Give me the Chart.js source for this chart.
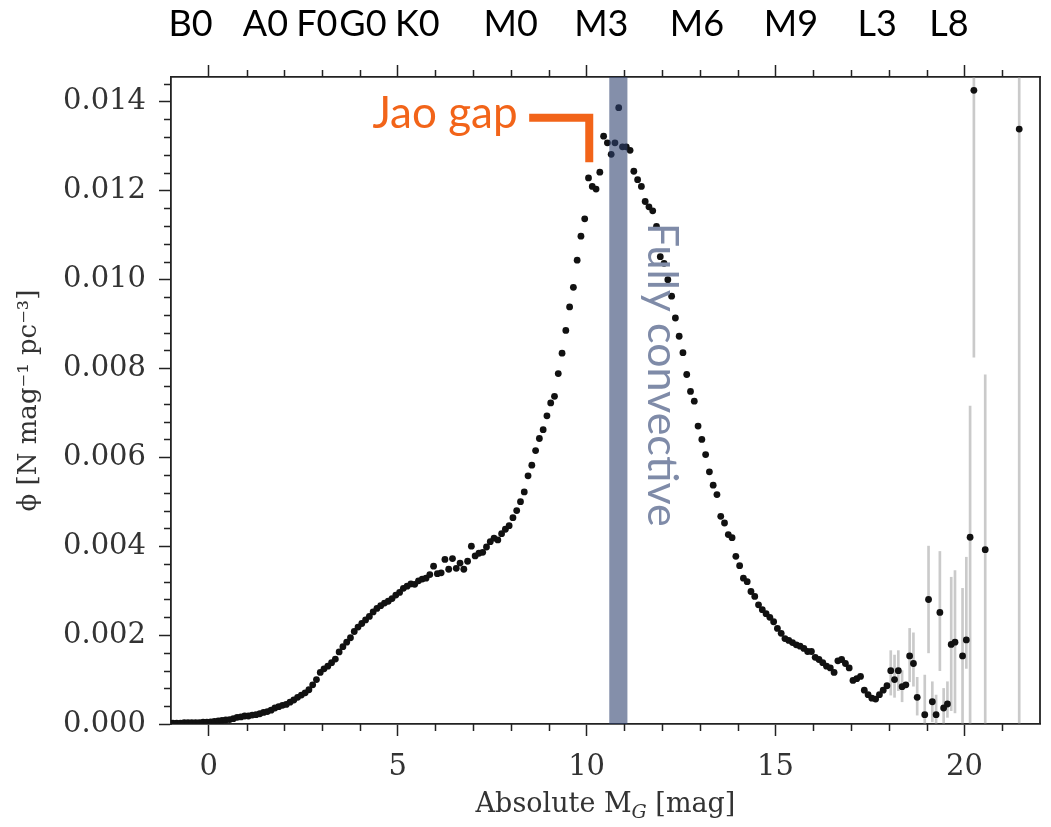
<!DOCTYPE html>
<html>
<head>
<meta charset="utf-8">
<script src="https://cdn.jsdelivr.net/npm/chart.js@4.4.1/dist/chart.umd.min.js"></script>
<style>
  html, body { margin: 0; padding: 0; background: #fff; }
  #wrap { width: 1051px; height: 827px; }
</style>
</head>
<body>
<div id="wrap"><canvas id="lf"></canvas></div>
<script>
// absolute G magnitude bin centres
const absMag = [
  -0.95, -0.85, -0.75, -0.65, -0.55, -0.45, -0.35, -0.25, -0.15, -0.05,
  0.05, 0.15, 0.25, 0.35, 0.45, 0.55, 0.65, 0.75, 0.85, 0.95,
  1.05, 1.15, 1.25, 1.35, 1.45, 1.55, 1.65, 1.75, 1.85, 1.95,
  2.05, 2.15, 2.25, 2.35, 2.45, 2.55, 2.65, 2.75, 2.85, 2.95,
  3.05, 3.15, 3.25, 3.35, 3.45, 3.55, 3.65, 3.75, 3.85, 3.95,
  4.05, 4.15, 4.25, 4.35, 4.45, 4.55, 4.65, 4.75, 4.85, 4.95,
  5.05, 5.15, 5.25, 5.35, 5.45, 5.55, 5.65, 5.75, 5.85, 5.95,
  6.05, 6.15, 6.25, 6.35, 6.45, 6.55, 6.65, 6.75, 6.85, 6.95,
  7.05, 7.15, 7.25, 7.35, 7.45, 7.55, 7.65, 7.75, 7.85, 7.95,
  8.05, 8.15, 8.25, 8.35, 8.45, 8.55, 8.65, 8.75, 8.85, 8.95,
  9.05, 9.15, 9.25, 9.35, 9.45, 9.55, 9.65, 9.75, 9.85, 9.95,
  10.05, 10.15, 10.25, 10.35, 10.45, 10.55, 10.65, 10.75, 10.85, 10.95,
  11.05, 11.15, 11.25, 11.35, 11.45, 11.55, 11.65, 11.75, 11.85, 11.95,
  12.05, 12.15, 12.25, 12.35, 12.45, 12.55, 12.65, 12.75, 12.85, 12.95,
  13.05, 13.15, 13.25, 13.35, 13.45, 13.55, 13.65, 13.75, 13.85, 13.95,
  14.05, 14.15, 14.25, 14.35, 14.45, 14.55, 14.65, 14.75, 14.85, 14.95,
  15.05, 15.15, 15.25, 15.35, 15.45, 15.55, 15.65, 15.75, 15.85, 15.95,
  16.05, 16.15, 16.25, 16.35, 16.45, 16.55, 16.65, 16.75, 16.85, 16.95,
  17.05, 17.15, 17.25, 17.35, 17.45, 17.55, 17.65, 17.75, 17.85, 17.95,
  18.05, 18.15, 18.25, 18.35, 18.45, 18.55, 18.65, 18.75,
  18.95, 19.05, 19.15, 19.25, 19.35, 19.45, 19.55, 19.65, 19.75,
  19.95, 20.05, 20.15, 20.25, 20.55, 21.45
];
// phi in units of 1e-3 N mag^-1 pc^-3
const phiMilli = [
  0.02, 0.02, 0.02, 0.03, 0.03, 0.03, 0.03, 0.03, 0.04, 0.04,
  0.05, 0.06, 0.07, 0.08, 0.09, 0.10, 0.12, 0.15, 0.16, 0.18,
  0.18, 0.20, 0.21, 0.23, 0.26, 0.28, 0.31, 0.36, 0.39, 0.42,
  0.44, 0.49, 0.54, 0.60, 0.65, 0.70, 0.77, 0.88, 1.00, 1.16,
  1.24, 1.30, 1.38, 1.46, 1.62, 1.74, 1.84, 1.94, 2.08, 2.18,
  2.26, 2.34, 2.42, 2.52, 2.60, 2.66, 2.72, 2.76, 2.82, 2.90,
  2.96, 3.05, 3.10, 3.15, 3.14, 3.22, 3.26, 3.28, 3.36, 3.55,
  3.38, 3.40, 3.70, 3.48, 3.72, 3.50, 3.62, 3.48, 3.66, 4.00,
  3.78, 3.84, 3.86, 3.98, 4.10, 4.18, 4.14, 4.28, 4.38, 4.46,
  4.64, 4.80, 5.00, 5.22, 5.58, 5.82, 6.15, 6.42, 6.62, 6.93,
  7.22, 7.37, 7.88, 8.34, 8.85, 9.38, 9.82, 10.43, 10.97, 11.36,
  12.28, 12.09, 12.03, 12.41, 13.22, 13.07, 12.81, 13.07, 13.86, 12.98,
  12.98, 12.90, 12.43, 12.24, 12.09, 11.75, 11.63, 11.54, 11.19, 10.51,
  10.36, 9.99, 9.62, 9.13, 8.72, 8.35, 7.86, 7.48, 7.26, 6.70,
  6.40, 6.06, 5.67, 5.37, 5.16, 4.67, 4.52, 4.26, 4.19, 3.77,
  3.56, 3.28, 3.20, 2.98, 2.87, 2.68, 2.57, 2.48, 2.40, 2.30,
  2.15, 2.04, 1.92, 1.88, 1.83, 1.78, 1.75, 1.70, 1.63, 1.63,
  1.50, 1.45, 1.38, 1.30, 1.26, 1.16, 1.42, 1.45, 1.36, 1.26,
  0.98, 1.02, 1.07, 0.76, 0.66, 0.58, 0.56, 0.66, 0.76, 0.86,
  1.20, 1.00, 1.20, 0.84, 0.88, 1.53, 1.36, 0.60,
  0.21, 2.80, 0.50, 0.21, 2.51, 0.36, 0.45, 1.79, 1.84,
  1.53, 1.89, 4.20, 14.25, 3.92, 13.38
];
// error bars on the faint end (1e-3 units)
const errMag = [18.05, 18.15, 18.25, 18.35, 18.55, 18.65, 18.75, 18.95, 19.05, 19.15,
  19.25, 19.35, 19.45, 19.55, 19.65, 19.75, 19.95, 20.05, 20.15, 20.25, 20.55, 21.45];
const errLoMilli = [0.65, 0.60, 0.75, 0.50, 0.95, 0.85, 0.20, 0.00, 1.60, 0.05,
  0.00, 1.20, 0.00, 0.15, 0.30, 0.25, 0.00, 1.25, 0.00, 8.25, 0.00, 0.00];
const errHiMilli = [1.65, 1.55, 1.65, 1.20, 2.15, 2.05, 1.05, 1.10, 4.00, 0.95,
  0.65, 3.88, 0.80, 0.95, 3.30, 3.45, 3.05, 3.75, 7.15, 25.0, 7.85, 30.0];

const xMajor = [0, 5, 10, 15, 20];
const yMajor = [0, 0.002, 0.004, 0.006, 0.008, 0.010, 0.012, 0.014];
const specNames = ['B0', 'A0', 'F0', 'G0', 'K0', 'M0', 'M3', 'M6', 'M9', 'L3', 'L8'];
const specMag = [-0.48, 1.5, 2.86, 4.08, 5.52, 7.99, 10.39, 12.92, 15.41, 17.69, 19.59];
const convectiveBand = [10.6, 11.08];

const X_MIN = -1, X_MAX = 22, Y_MAX = 0.01455;
const axisColor = '#222';
const labelColor = '#333';
const serif = 'DejaVu Serif';

const points = absMag.map((m, i) => ({ x: m, y: phiMilli[i] / 1000 }));
const errBars = errMag.map((m, i) => ({ x: m, y: [errLoMilli[i] / 1000, errHiMilli[i] / 1000] }));

const overlay = {
    id: 'overlay',
    afterDatasetsDraw(chart) {
        const { ctx, chartArea: a, scales: { x } } = chart;
        const x0 = x.getPixelForValue(convectiveBand[0]);
        const x1 = x.getPixelForValue(convectiveBand[1]);
        ctx.save();
        ctx.fillStyle = 'rgba(45, 63, 110, 0.585)';
        ctx.fillRect(x0, a.top, x1 - x0, a.bottom - a.top);
        ctx.restore();
    },
    afterDraw(chart) {
        const { ctx, chartArea: a, scales: { x, y } } = chart;
        ctx.save();
        ctx.strokeStyle = axisColor;
        ctx.lineWidth = 1.5;
        // minor ticks
        ctx.beginPath();
        for (let m = X_MIN + 1; m < X_MAX; m++) {
            if (m % 5 === 0) continue;
            const px = Math.round(x.getPixelForValue(m)) + 0.5;
            ctx.moveTo(px, a.bottom); ctx.lineTo(px, a.bottom + 7);
            ctx.moveTo(px, a.top); ctx.lineTo(px, a.top - 7);
        }
        for (let k = 1; k * 0.0004 < Y_MAX; k++) {
            if (k % 5 === 0) continue;
            const py = Math.round(y.getPixelForValue(k * 0.0004)) + 0.5;
            ctx.moveTo(a.left, py); ctx.lineTo(a.left - 7, py);
        }
        ctx.stroke();
        // right frame edge
        ctx.lineWidth = 1.8;
        ctx.beginPath();
        ctx.moveTo(a.right, a.top); ctx.lineTo(a.right, a.bottom);
        ctx.stroke();

        // Jao gap label and bracket
        const orange = '#F26419';
        ctx.fillStyle = orange;
        ctx.font = '44px Lato';
        ctx.textAlign = 'left';
        ctx.textBaseline = 'alphabetic';
        ctx.fillText('Jao gap', x.getPixelForValue(4.33), y.getPixelForValue(0.01341));
        ctx.strokeStyle = orange;
        ctx.lineWidth = 8;
        ctx.lineJoin = 'miter';
        ctx.beginPath();
        ctx.moveTo(x.getPixelForValue(8.48), y.getPixelForValue(0.013633));
        ctx.lineTo(x.getPixelForValue(10.07), y.getPixelForValue(0.013633));
        ctx.lineTo(x.getPixelForValue(10.07), y.getPixelForValue(0.012633));
        ctx.stroke();

        // Fully convective label
        ctx.save();
        ctx.translate(x.getPixelForValue(11.63), y.getPixelForValue(0.01127));
        ctx.rotate(Math.PI / 2);
        ctx.fillStyle = '#7f8ba8';
        ctx.font = '43px Lato';
        ctx.fillText('Fully convective', 0, 0);
        ctx.restore();

        // x axis title with subscript
        const big = '27px "' + serif + '"';
        const small = 'italic 19px "' + serif + '"';
        const parts = [['Absolute M', big, 0], ['G', small, 6], [' [mag]', big, 0]];
        let total = 0;
        parts.forEach(p => { ctx.font = p[1]; total += ctx.measureText(p[0]).width; });
        let cx = (a.left + a.right) / 2 - total / 2;
        const base = a.bottom + 88;
        ctx.fillStyle = labelColor;
        parts.forEach(p => {
            ctx.font = p[1];
            ctx.fillText(p[0], cx, base + p[2]);
            cx += ctx.measureText(p[0]).width;
        });
        ctx.restore();
    }
};

const tickGrid = { drawOnChartArea: false, tickLength: 12, tickColor: axisColor, tickWidth: 1.5, offset: false };
const frame = { color: axisColor, width: 1.8 };

new Chart(document.getElementById('lf'), {
    type: 'scatter',
    data: {
        datasets: [
            {
                label: 'phi',
                data: points,
                pointRadius: 3.4,
                pointHoverRadius: 3.4,
                pointBackgroundColor: '#111',
                pointBorderWidth: 0,
                order: 1
            },
            {
                type: 'bar',
                label: 'errors',
                data: errBars,
                backgroundColor: 'rgba(150, 150, 150, 0.5)',
                barThickness: 2,
                clip: 0,
                order: 2
            }
        ]
    },
    options: {
        responsive: true,
        maintainAspectRatio: false,
        animation: false,
        devicePixelRatio: 1,
        layout: { padding: { right: 11, top: 0, bottom: 0, left: 0 } },
        plugins: { legend: { display: false }, tooltip: { enabled: false } },
        scales: {
            x: {
                type: 'linear',
                position: 'bottom',
                min: X_MIN,
                max: X_MAX,
                offset: false,
                afterBuildTicks: s => { s.ticks = xMajor.map(v => ({ value: v })); },
                afterFit: s => { s.height = 103; },
                ticks: {
                    autoSkip: false, maxRotation: 0, padding: 14,
                    color: labelColor, font: { family: serif, size: 29 },
                    callback: v => String(v)
                },
                grid: tickGrid,
                border: frame
            },
            xTop: {
                type: 'linear',
                position: 'top',
                weight: 0,
                min: X_MIN,
                max: X_MAX,
                offset: false,
                afterBuildTicks: s => { s.ticks = xMajor.map(v => ({ value: v })); },
                afterFit: s => { s.height = 12; },
                ticks: { display: false },
                grid: tickGrid,
                border: frame
            },
            xSpec: {
                type: 'linear',
                position: 'top',
                weight: 1,
                min: X_MIN,
                max: X_MAX,
                offset: false,
                afterBuildTicks: s => { s.ticks = specMag.map(v => ({ value: v })); },
                afterFit: s => { s.height = 65; },
                ticks: {
                    autoSkip: false, maxRotation: 0, padding: 19,
                    color: '#000', font: { family: 'Lato', size: 36 },
                    callback: (v, i) => specNames[i]
                },
                grid: { display: false, drawTicks: false },
                border: { display: false }
            },
            y: {
                type: 'linear',
                min: 0,
                max: Y_MAX,
                afterBuildTicks: s => { s.ticks = yMajor.map(v => ({ value: v })); },
                afterFit: s => { s.width = 171; },
                ticks: {
                    padding: 13,
                    color: labelColor, font: { family: serif, size: 29 },
                    callback: v => v.toFixed(3)
                },
                grid: tickGrid,
                border: frame,
                title: {
                    display: true,
                    text: '\u03d5 [N mag\u207b\u00b9 pc\u207b\u00b3]',
                    color: labelColor,
                    font: { family: serif, size: 26 },
                    padding: { top: 14, bottom: 0 }
                }
            }
        }
    },
    plugins: [overlay]
});
</script>
</body>
</html>
